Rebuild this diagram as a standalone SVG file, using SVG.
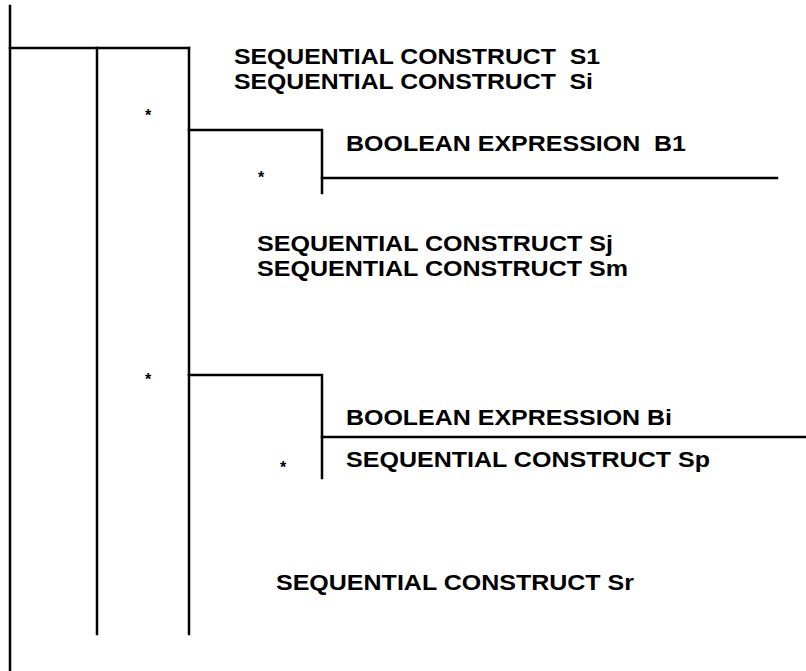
<svg xmlns="http://www.w3.org/2000/svg" width="806" height="671" viewBox="0 0 806 671">
<style>
.ln{stroke:#000;stroke-width:2.5;fill:none;stroke-linecap:square}
.t{font-family:"Liberation Sans",Arial,sans-serif;font-weight:bold;font-size:22px;fill:#000;white-space:pre}
.st{font-family:"Liberation Sans",Arial,sans-serif;font-weight:bold;font-size:16px;fill:#000}
</style>
<rect width="806" height="671" fill="#fff"/>
<g id="connectors">
<path class="ln" d="M10,6 V671"/>
<path class="ln" d="M10,48 H189"/>
<path class="ln" d="M97,48 V634"/>
<path class="ln" d="M189,48 V634"/>
<path class="ln" d="M189,130 H322 V193"/>
<path class="ln" d="M322,178 H777"/>
<path class="ln" d="M189,375 H322 V478"/>
<path class="ln" d="M322,437 H806"/>
</g>
<g id="n_s1"><text class="t" xml:space="preserve" x="234" y="64" textLength="366" lengthAdjust="spacingAndGlyphs">SEQUENTIAL CONSTRUCT  S1</text></g>
<g id="n_si"><text class="t" xml:space="preserve" x="234" y="89" textLength="359" lengthAdjust="spacingAndGlyphs">SEQUENTIAL CONSTRUCT  Si</text></g>
<g id="star1"><text class="st" x="148" y="121" text-anchor="middle">*</text></g>
<g id="n_b1"><text class="t" xml:space="preserve" x="346" y="151" textLength="340" lengthAdjust="spacingAndGlyphs">BOOLEAN EXPRESSION  B1</text></g>
<g id="star2"><text class="st" x="261" y="183" text-anchor="middle">*</text></g>
<g id="n_sj"><text class="t" x="257" y="251" textLength="356" lengthAdjust="spacingAndGlyphs">SEQUENTIAL CONSTRUCT Sj</text></g>
<g id="n_sm"><text class="t" x="257" y="276" textLength="371" lengthAdjust="spacingAndGlyphs">SEQUENTIAL CONSTRUCT Sm</text></g>
<g id="star3"><text class="st" x="148" y="385" text-anchor="middle">*</text></g>
<g id="n_bi"><text class="t" x="346" y="425" textLength="326" lengthAdjust="spacingAndGlyphs">BOOLEAN EXPRESSION Bi</text></g>
<g id="star4"><text class="st" x="283" y="473" text-anchor="middle">*</text></g>
<g id="n_sp"><text class="t" x="346" y="467" textLength="364" lengthAdjust="spacingAndGlyphs">SEQUENTIAL CONSTRUCT Sp</text></g>
<g id="n_sr"><text class="t" x="276" y="590" textLength="358" lengthAdjust="spacingAndGlyphs">SEQUENTIAL CONSTRUCT Sr</text></g>
</svg>
